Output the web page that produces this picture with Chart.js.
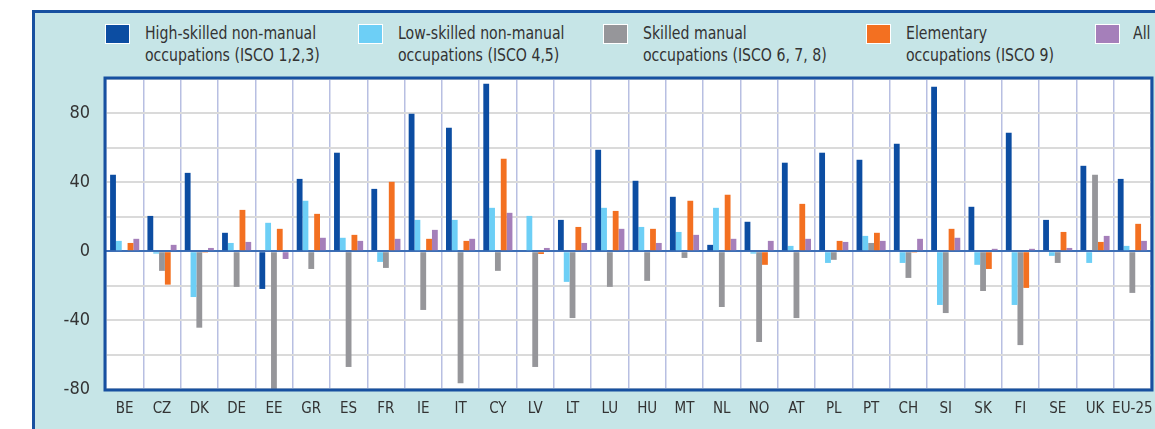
<!DOCTYPE html>
<html>
<head>
<meta charset="utf-8">
<script src="https://cdn.jsdelivr.net/npm/chart.js@4.4.1/dist/chart.umd.min.js"></script>
<style>
  html, body { margin: 0; padding: 0; background: #fff; width: 1155px; height: 429px; overflow: hidden; }
  #panel {
    position: absolute; left: 32px; top: 10px; width: 1140px; height: 440px;
    background: #c6e5e7; border-left: 3px solid #1750a0; border-top: 3px solid #1750a0;
  }
  #legend { position: absolute; left: 0; top: 0; width: 1155px; height: 70px;
    font-family: 'Liberation Sans Narrow', 'DejaVu Sans Condensed', sans-serif; font-size: 18px; color: #333; }
  .item { position: absolute; top: 24px; }
  .box { position: absolute; left: 0; top: 0; width: 25px; height: 20px; border: 1px solid #fff; box-sizing: border-box; }
  .txt { position: absolute; top: -2px; white-space: nowrap; line-height: 22px; transform: scaleX(0.87); transform-origin: 0 0; }
  #wrap { position: absolute; left: 0; top: 0; width: 1155px; height: 429px; }
</style>
</head>
<body>
<div id="panel"></div>
<div id="legend"></div>
<div id="wrap"><canvas id="chart"></canvas></div>
<script>
const countries = ['BE','CZ','DK','DE','EE','GR','ES','FR','IE','IT','CY','LV','LT','LU','HU','MT','NL','NO','AT','PL','PT','CH','SI','SK','FI','SE','UK','EU-25'];

const highSkilled = [44.4, 20.5, 45.5, 10.7, -21.9, 42, 57.2, 36.2, 79.8, 71.7, 97.3, 0, 18.2, 58.9, 40.9, 31.6, 3.7, 17.1, 51.4, 57.2, 53.1, 62.4, 95.5, 25.8, 68.8, 18.2, 49.6, 42];
const lowSkilled = [6, -1.4, -26.6, 4.8, 16.5, 29.3, 7.8, -6.2, 18.2, 18.2, 25.2, 20.5, -17.8, 25.2, 14.1, 11.2, 25.2, -1.4, 3.1, -6.8, 8.9, -6.8, -31.2, -7.9, -31.2, -2.7, -6.8, 3.1];
const skilledManual = [0, -11.4, -44.4, -20.7, -82, -10.3, -67.2, -9.7, -34.1, -76.6, -11.4, -67.2, -38.8, -20.7, -17.2, -3.9, -32.4, -52.7, -38.8, -5, 4.8, -15.5, -35.9, -23.1, -54.5, -6.8, 44.4, -24.2];
const elementary = [4.8, -19.4, -0.8, 24, 13, 21.7, 9.5, 40.3, 7.2, 6, 53.7, -1.6, 14.1, 23.4, 13, 29.3, 32.8, -7.9, 27.5, 6, 10.7, -0.8, 13, -10.3, -21.3, 11.2, 5.4, 15.9];
const allOcc = [7.2, 3.7, 1.9, 5.4, -4.5, 7.8, 6, 7.2, 12.4, 7.2, 22.3, 1.9, 4.8, 13, 4.8, 9.5, 7.2, 6, 7.2, 5.4, 6, 7.2, 7.8, 1.4, 1.4, 1.9, 8.9, 6];

const seriesNames = [
  ['High-skilled non-manual', 'occupations (ISCO 1,2,3)'],
  ['Low-skilled non-manual', 'occupations (ISCO 4,5)'],
  ['Skilled manual', 'occupations (ISCO 6, 7, 8)'],
  ['Elementary', 'occupations (ISCO 9)'],
  ['All']
];
const seriesColors = ['#0c4da2', '#6dcff6', '#96969a', '#f37021', '#a57fba'];
const seriesData = [highSkilled, lowSkilled, skilledManual, elementary, allOcc];
const yTicks = [80, 40, 0, -40, -80];

const legendX = [105, 358, 603, 866, 1095];

const FONT = "'Liberation Sans Narrow', 'DejaVu Sans Condensed', sans-serif";

// html legend
const legendEl = document.getElementById('legend');
seriesNames.forEach((lines, i) => {
  const it = document.createElement('div');
  it.className = 'item';
  it.style.left = legendX[i] + 'px';
  it.innerHTML = '<div class="box" style="background:' + seriesColors[i] + '"></div>' +
    '<div class="txt" style="left:' + (i === 4 ? 38 : 40) + 'px">' + lines.join('<br>') + '</div>';
  legendEl.appendChild(it);
});

const plotFrame = {
  id: 'plotFrame',
  beforeDraw(chart) {
    const a = chart.chartArea, c = chart.ctx;
    c.save();
    c.fillStyle = '#ffffff';
    c.fillRect(a.left, a.top, a.right - a.left, a.bottom - a.top);
    c.restore();
  },
  afterDraw(chart) {
    const a = chart.chartArea, c = chart.ctx;
    c.save();
    c.strokeStyle = '#1750a0';
    c.lineWidth = 3;
    c.strokeRect(a.left - 1, a.top - 1, a.right - a.left + 2, a.bottom - a.top + 2);
    c.restore();
  }
};

new Chart(document.getElementById('chart'), {
  type: 'bar',
  data: {
    labels: countries,
    datasets: seriesData.map((d, i) => ({
      label: seriesNames[i].join(' '),
      data: d,
      backgroundColor: seriesColors[i],
      borderWidth: 0,
      barPercentage: 1,
      categoryPercentage: 0.78
    }))
  },
  options: {
    responsive: true,
    maintainAspectRatio: false,
    animation: false,
    layout: { padding: { top: 79, right: 4, left: 0, bottom: 0 } },
    plugins: { legend: { display: false }, tooltip: { enabled: false } },
    scales: {
      x: {
        grid: { offset: true, color: '#b8bfe2', lineWidth: 1.5, drawTicks: false },
        border: { display: false },
        ticks: { color: '#333', font: { family: FONT, size: 15 }, padding: 11, maxRotation: 0, autoSkip: false },
        afterFit: s => { s.height = 40; s.paddingLeft = 0; s.paddingRight = 0; }
      },
      y: {
        min: -80, max: 100,
        grid: {
          color: ctx => ctx.tick && ctx.tick.value === 0 ? '#3d6fb6' : '#dadada',
          lineWidth: 2,
          drawTicks: false
        },
        border: { display: false },
        ticks: {
          stepSize: 20,
          color: '#333',
          font: { family: FONT, size: 18 },
          padding: 16,
          callback: v => yTicks.includes(v) ? String(v) : ''
        },
        afterFit: s => { s.width = 106; s.paddingTop = 0; s.paddingBottom = 0; }
      }
    }
  },
  plugins: [plotFrame]
});
</script>
</body>
</html>
